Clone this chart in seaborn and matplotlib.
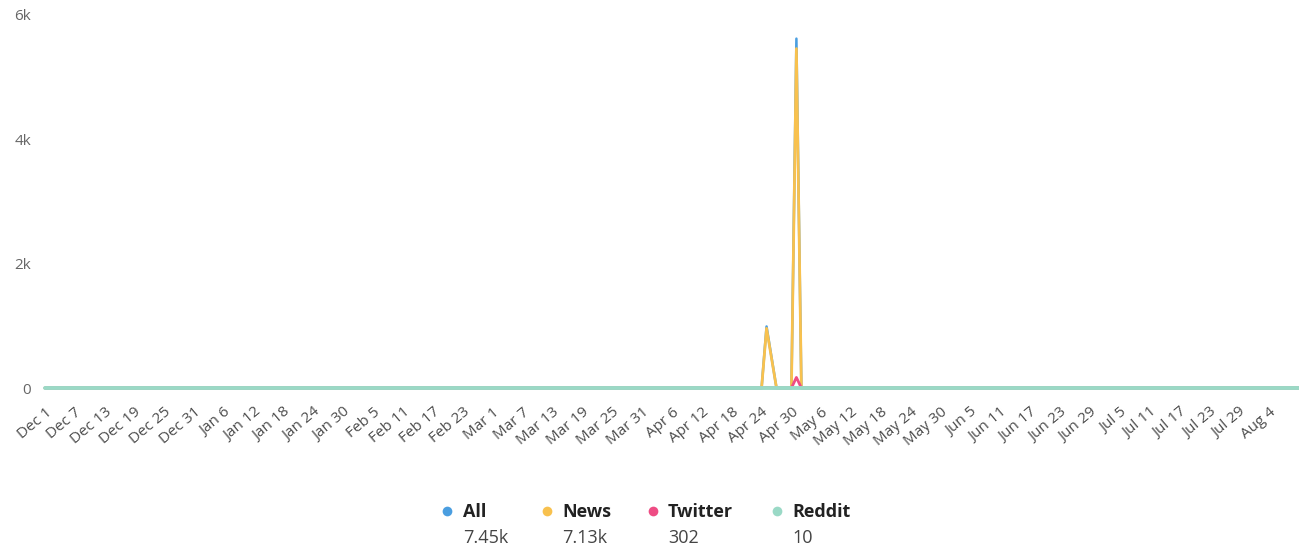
import matplotlib
matplotlib.use("Agg")
import matplotlib.pyplot as plt
from matplotlib.lines import Line2D
import seaborn as sns
import pandas as pd
import numpy as np

# ---- data ----
start_date = "2018-12-01"
end_date = "2019-08-10"
spike_dates = ["2019-04-24", "2019-04-25", "2019-04-26", "2019-04-27",
               "2019-04-30", "2019-05-01", "2019-05-02"]
all_vals = [0, 990, 500, 0, 0, 5620, 0]
news_vals = [0, 960, 480, 0, 0, 5460, 0]
twitter_vals = [0, 10, 5, 0, 0, 170, 0]
reddit_vals = [0, 0, 0, 0, 0, 0, 0]

series_names = ["All", "News", "Twitter", "Reddit"]
series_colors = ["#4a9ee0", "#f8c14e", "#ee4c84", "#9ad9c6"]
legend_totals = ["7.45k", "7.13k", "302", "10"]

y_ticks = [0, 2000, 4000, 6000]
y_tick_labels = ["0", "2k", "4k", "6k"]

# ---- build frame ----
days = pd.date_range(start_date, end_date, freq="D")
frames = []
for name, vals in zip(series_names, [all_vals, news_vals, twitter_vals, reddit_vals]):
    s = pd.Series(vals, index=pd.to_datetime(spike_dates)).reindex(days, fill_value=0)
    frames.append(pd.DataFrame({"date": days, "value": s.values, "series": name}))

sns.set_style("white")
plt.rcParams["font.family"] = ["Open Sans", "DejaVu Sans"]

W, H = 1299, 550
fig = plt.figure(figsize=(W / 100, H / 100), dpi=100)
ax = fig.add_axes([45 / W, 1 - 388 / H, 1 - 45 / W, (388 - 15) / H])

widths = [1.8, 2.0, 2.0, 2.8]
for i, (frame, col, lw) in enumerate(zip(frames, series_colors, widths)):
    n0 = len(ax.lines)
    sns.lineplot(data=frame, x="date", y="value", color=col, linewidth=lw,
                 legend=False, ax=ax)
    for ln in ax.lines[n0:]:
        ln.set_clip_on(False)
        ln.set_zorder(3 + i)
        ln.set_solid_joinstyle("round")
        ln.set_solid_capstyle("round")

ax.set_xlim(pd.Timestamp(start_date), pd.Timestamp(end_date))
ax.set_ylim(0, 6000)
ax.set_yticks(y_ticks)
ax.set_yticklabels(y_tick_labels)

xt = pd.date_range(start_date, "2019-08-04", freq="6D")
ax.set_xticks(xt)
ax.set_xticklabels([f"{d.strftime('%b')} {d.day}" for d in xt], rotation=40,
                   ha="right", rotation_mode="anchor")
ax.tick_params(axis="x", length=0, pad=12, labelsize=11, labelcolor="#4d4d4d")
ax.tick_params(axis="y", length=0, pad=10, labelsize=11, labelcolor="#666666")
ax.set_xlabel("")
ax.set_ylabel("")
for sp in ax.spines.values():
    sp.set_visible(False)

# ---- custom legend ----
dot_x = [447, 547, 653, 777]
text_x = [463, 562, 668, 792]
for name, col, tot, dx, tx in zip(series_names, series_colors, legend_totals, dot_x, text_x):
    fig.add_artist(Line2D([dx / W], [1 - 511 / H], transform=fig.transFigure,
                          marker="o", markersize=7, markerfacecolor=col,
                          markeredgecolor="none", linestyle="none"))
    fig.text(tx / W, 1 - 512 / H, name, ha="left", va="center", fontsize=13,
             fontweight="bold", color="#222222")
    fig.text(tx / W, 1 - 538 / H, tot, ha="left", va="center", fontsize=13,
             color="#444444")

fig.savefig("out.png", dpi=100)
